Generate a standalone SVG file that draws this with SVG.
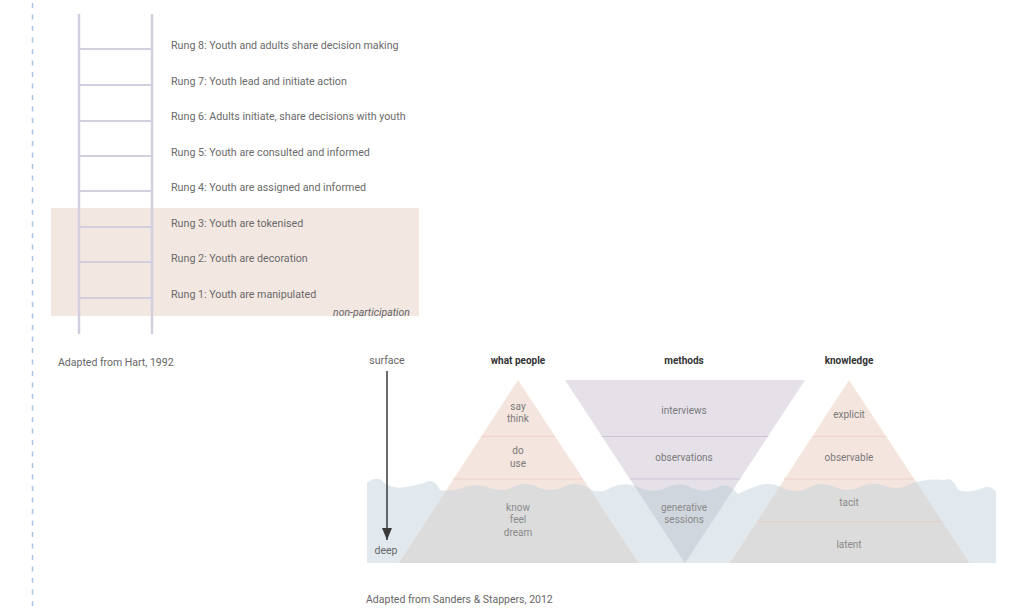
<svg xmlns="http://www.w3.org/2000/svg" width="1017" height="609" viewBox="0 0 1017 609">
  <defs>
    <style>
      .rail { stroke: #d3cfdf; stroke-width: 2.5; fill: none; }
      .rung { stroke: #d3cfdf; stroke-width: 2.2; fill: none; }
      .lbl { font-family: Roboto, "Liberation Sans", sans-serif; font-size: 10.7px; fill: #6a6a6a; }
      .note { font-family: Roboto, "Liberation Sans", sans-serif; font-size: 10.5px; fill: #666; }
      .head { font-family: Roboto, "Liberation Sans", sans-serif; font-size: 10px; font-weight: 700; fill: #333; text-anchor: middle; }
      .lvl { font-family: Roboto, "Liberation Sans", sans-serif; font-size: 10px; fill: #7a7a7a; text-anchor: middle; }
      .lvl-deep { font-family: Roboto, "Liberation Sans", sans-serif; font-size: 10px; fill: #8a8a8a; text-anchor: middle; }
      .div-pink { stroke: #efd2c9; stroke-width: 1; }
      .div-lav { stroke: #cbc5d5; stroke-width: 1; }
    </style>
    <path id="water-shape" d="M367,483 Q372,478 380,479 Q390,490 405,487 Q420,485 428,481 Q436,480 440,490 Q452,492 465,487 Q478,483 490,488 Q503,493 515,486 Q528,481 540,488 Q552,493 565,486 Q578,481 590,489 Q600,495 612,487 Q625,481 640,488 Q655,494 668,487 Q680,481 692,488 Q705,494 718,487 Q728,482 738,494 Q750,488 760,485 Q772,482 785,489 Q798,494 810,487 Q822,481 835,487 Q848,493 860,487 Q872,481 885,486 Q898,491 910,484 Q925,478 945,480 Q952,476 958,490 Q970,494 985,487 Q992,486 996,492 L996,563 L367,563 Z"/>
    <clipPath id="underwater">
      <use href="#water-shape"/>
    </clipPath>
    <marker id="arrowhead" viewBox="0 0 12 10" refX="12" refY="5" markerWidth="12" markerHeight="10" markerUnits="userSpaceOnUse" orient="auto">
      <path d="M0,0 L12,5 L0,10 Z" fill="#3a3a3a"/>
    </marker>
  </defs>

  <rect width="1017" height="609" fill="#ffffff"/>

  <!-- page margin guide -->
  <line x1="32.5" y1="3" x2="32.5" y2="609" stroke="#a9c4e6" stroke-width="1.5" stroke-dasharray="5 6.5"/>

  <!-- ladder of participation -->
  <g id="ladder">
    <rect id="non-participation-band" x="51" y="208" width="368" height="108" fill="#f3e7e2"/>
    <line class="rail" x1="79" y1="14" x2="79" y2="334"/>
    <line class="rail" x1="152" y1="14" x2="152" y2="334"/>
    <line class="rung" x1="79" y1="49" x2="152" y2="49"/>
    <line class="rung" x1="79" y1="85" x2="152" y2="85"/>
    <line class="rung" x1="79" y1="121" x2="152" y2="121"/>
    <line class="rung" x1="79" y1="156" x2="152" y2="156"/>
    <line class="rung" x1="79" y1="191" x2="152" y2="191"/>
    <line class="rung" x1="79" y1="227" x2="152" y2="227"/>
    <line class="rung" x1="79" y1="262" x2="152" y2="262"/>
    <line class="rung" x1="79" y1="298" x2="152" y2="298"/>
  </g>
  <g id="rung-labels">
    <text class="lbl" x="171" y="49">Rung 8: Youth and adults share decision making</text>
    <text class="lbl" x="171" y="85">Rung 7: Youth lead and initiate action</text>
    <text class="lbl" x="171" y="120">Rung 6: Adults initiate, share decisions with youth</text>
    <text class="lbl" x="171" y="156">Rung 5: Youth are consulted and informed</text>
    <text class="lbl" x="171" y="191">Rung 4: Youth are assigned and informed</text>
    <text class="lbl" x="171" y="227">Rung 3: Youth are tokenised</text>
    <text class="lbl" x="171" y="262">Rung 2: Youth are decoration</text>
    <text class="lbl" x="171" y="298">Rung 1: Youth are manipulated</text>
    <text class="note" x="410" y="316" text-anchor="end" font-style="italic" font-size="9" fill="#666">non-participation</text>
  </g>
  <text id="hart-credit" class="note" x="58" y="366">Adapted from Hart, 1992</text>

  <!-- iceberg model -->
  <g id="water">
    <use href="#water-shape" fill="#e1e9ef"/>
  </g>

  <g id="pyramid-what-people">
    <polygon points="518,380 638.5,563 399,563" fill="#f4e5df"/>
    <line class="div-pink" x1="481" y1="436.5" x2="555" y2="436.5"/>
    <line class="div-pink" x1="453" y1="479" x2="583" y2="479"/>
    <polygon points="518,380 638.5,563 399,563" fill="#dcdcdc" clip-path="url(#underwater)"/>
  </g>

  <g id="triangle-methods">
    <polygon points="565,380 805,380 685,563" fill="#e6e0e8"/>
    <line class="div-lav" x1="602" y1="436.5" x2="768" y2="436.5"/>
    <line class="div-lav" x1="630" y1="479" x2="740" y2="479"/>
    <polygon points="565,380 805,380 685,563" fill="#d0d6de" clip-path="url(#underwater)"/>
  </g>

  <g id="pyramid-knowledge">
    <polygon points="849,380 969.5,563 730,563" fill="#f4e5df"/>
    <line class="div-pink" x1="812" y1="436.5" x2="886" y2="436.5"/>
    <line class="div-pink" x1="784" y1="479" x2="914" y2="479"/>
    <polygon points="849,380 969.5,563 730,563" fill="#dcdcdc" clip-path="url(#underwater)"/>
    <line x1="757" y1="521.7" x2="941" y2="521.7" stroke="#e6cdc5" stroke-width="1"/>
  </g>

  <g id="column-heads">
    <text class="head" x="518" y="364">what people</text>
    <text class="head" x="684" y="364">methods</text>
    <text class="head" x="849" y="364">knowledge</text>
  </g>

  <g id="depth-axis">
    <text class="note" x="387" y="364" text-anchor="middle" font-size="10" fill="#777">surface</text>
    <text class="note" x="386" y="554" text-anchor="middle" font-size="10" fill="#777">deep</text>
  </g>

  <g id="connectors">
    <line x1="387" y1="371" x2="387" y2="540" stroke="#3a3a3a" stroke-width="1.5" marker-end="url(#arrowhead)"/>
  </g>

  <g id="labels-what-people">
    <text class="lvl" x="518" y="410">say</text>
    <text class="lvl" x="518" y="422">think</text>
    <text class="lvl" x="518" y="454">do</text>
    <text class="lvl" x="518" y="467">use</text>
    <text class="lvl-deep" x="518" y="511">know</text>
    <text class="lvl-deep" x="518" y="523">feel</text>
    <text class="lvl-deep" x="518" y="536">dream</text>
  </g>

  <g id="labels-methods">
    <text class="lvl" x="684" y="414">interviews</text>
    <text class="lvl" x="684" y="461">observations</text>
    <text class="lvl-deep" x="684" y="511">generative</text>
    <text class="lvl-deep" x="684" y="523">sessions</text>
  </g>

  <g id="labels-knowledge">
    <text class="lvl" x="849" y="418">explicit</text>
    <text class="lvl" x="849" y="461">observable</text>
    <text class="lvl-deep" x="849" y="506">tacit</text>
    <text class="lvl-deep" x="849" y="548">latent</text>
  </g>

  <text id="sanders-credit" class="note" x="366" y="603">Adapted from Sanders &amp; Stappers, 2012</text>
</svg>
